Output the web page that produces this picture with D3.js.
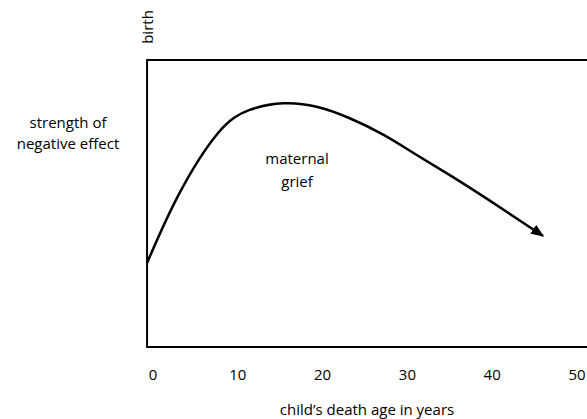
<!DOCTYPE html>
<html>
<head>
<meta charset="utf-8">
<script src="https://cdn.jsdelivr.net/npm/d3@7"></script>
<style>
  body { margin: 0; background: #fff; }
  text { font-family: "Open Sans", Lato, sans-serif; fill: #000; }
</style>
</head>
<body>
<svg id="chart"></svg>
<script>
const width = 587, height = 419;

// x tick labels (years)
const xTicks = [0, 10, 20, 30, 40, 50];
// age in years, strength of effect (0-100, arbitrary)
const ages = [-0.7, 3.0, 7.6, 11.4, 15.4, 19.3, 23.2, 27.2, 31.1, 35.0, 39.4, 46.0];
const strength = [29.3, 52.9, 74.3, 82.6, 84.9, 83.7, 79.7, 73.9, 66.9, 59.9, 51.6, 38.7];

const svg = d3.select('#chart').attr('width', width).attr('height', height);

const x = d3.scaleLinear().domain([0, 50]).range([153, 577]);
const y = d3.scaleLinear().domain([0, 100]).range([347, 60]);

// frame (runs off the right edge like the original)
svg.append('path')
  .attr('d', `M${width + 5},${y(100)} H${x(-0.7)} V${y(0)} H${width + 5}`)
  .attr('fill', 'none')
  .attr('stroke', '#000')
  .attr('stroke-width', 2);

// arrow head
svg.append('defs').append('marker')
  .attr('id', 'arrow')
  .attr('markerUnits', 'userSpaceOnUse')
  .attr('viewBox', '0 0 12 10')
  .attr('refX', 11).attr('refY', 5)
  .attr('markerWidth', 13).attr('markerHeight', 11)
  .attr('orient', 'auto')
  .append('path')
  .attr('d', 'M0,0 L12,5 L0,10 Z')
  .attr('fill', '#000');

const line = d3.line()
  .x((d, i) => x(ages[i]))
  .y(d => y(d))
  .curve(d3.curveNatural);

svg.append('path')
  .datum(strength)
  .attr('d', line)
  .attr('fill', 'none')
  .attr('stroke', '#000')
  .attr('stroke-width', 2.5)
  .attr('marker-end', 'url(#arrow)');

// x tick labels
svg.selectAll('.tick-label').data(xTicks).enter().append('text')
  .attr('class', 'tick-label')
  .attr('x', d => x(d))
  .attr('y', 380)
  .attr('text-anchor', 'middle')
  .attr('font-size', 15)
  .text(d => d);

svg.append('text')
  .attr('x', 367).attr('y', 415)
  .attr('text-anchor', 'middle')
  .attr('font-size', 15)
  .text('child\u2019s death age in years');

// y axis label
const ylab = svg.append('text')
  .attr('text-anchor', 'middle')
  .attr('font-size', 15);
ylab.append('tspan').attr('x', 68).attr('y', 128).text('strength of');
ylab.append('tspan').attr('x', 68).attr('y', 149).text('negative effect');

svg.append('text')
  .attr('transform', 'translate(153,27) rotate(-90)')
  .attr('text-anchor', 'middle')
  .attr('font-size', 15)
  .text('birth');

// in-plot annotation
const ann = svg.append('text')
  .attr('text-anchor', 'middle')
  .attr('font-size', 15);
ann.append('tspan').attr('x', 297).attr('y', 164).text('maternal');
ann.append('tspan').attr('x', 297).attr('y', 187).text('grief');
</script>
</body>
</html>
